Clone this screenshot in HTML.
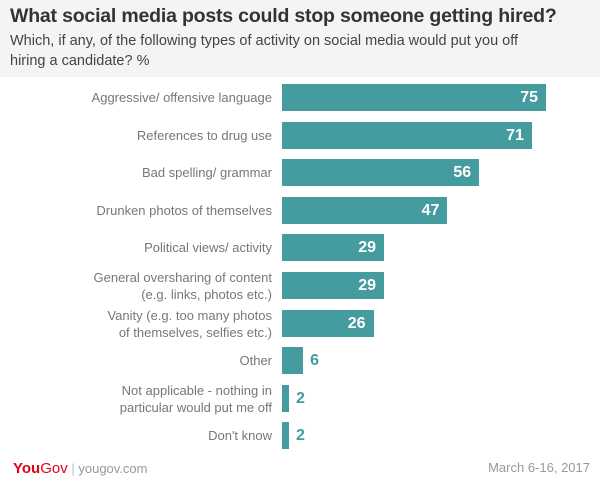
<!DOCTYPE html>
<html><head><style>
body{margin:0;width:600px;height:484px;background:#fff;font-family:"Liberation Sans",sans-serif;position:relative;overflow:hidden}
.hdr{position:absolute;left:0;top:0;width:600px;height:77px;background:#f3f4f5}
.t{position:absolute;left:10px;top:5px;font-size:19.5px;font-weight:bold;color:#333;letter-spacing:-0.2px}
.s{position:absolute;left:10px;top:31px;font-size:14.5px;color:#444;line-height:20px;width:540px}
.l{position:absolute;right:328px;text-align:right;font-size:13px;color:#777;line-height:17px}
.b{position:absolute;left:282px;height:27px;background:#459c9e}
.v{position:absolute;font-size:16px;font-weight:bold;line-height:27px}
.f{position:absolute;top:460px;font-size:13px;color:#999}
</style></head><body>
<div class="hdr"></div>
<div class="t">What social media posts could stop someone getting hired?</div>
<div class="s">Which, if any, of the following types of activity on social media would put you off<br>hiring a candidate? %</div>
<div id="c"></div>
<div class="f" style="left:13px;"><span style="color:#e0001b;font-weight:bold;font-size:15px">You</span><span style="color:#e0001b;font-size:15px">Gov</span> <span style="color:#bbb">|</span> yougov.com</div>
<div class="f" style="right:10px;">March 6-16, 2017</div>
<script>
var d=[["Aggressive/ offensive language",75],["References to drug use",71],["Bad spelling/ grammar",56],["Drunken photos of themselves",47],["Political views/ activity",29],["General oversharing of content<br>(e.g. links, photos etc.)",29],["Vanity (e.g. too many photos<br>of themselves, selfies etc.)",26],["Other",6],["Not applicable - nothing in<br>particular would put me off",2],["Don't know",2]];
var h="";d.forEach(function(r,i){var y=84+i*37.6,w=r[1]*3.52,two=r[0].indexOf("<br>")>0;
h+='<div class="l" style="top:'+(y+(two?-3:5))+'px">'+r[0]+'</div>';
h+='<div class="b" style="top:'+y+'px;width:'+w+'px"></div>';
if(r[1]>20)h+='<div class="v" style="color:#fff;top:'+y+'px;left:'+(282+w-36)+'px;width:28px;text-align:right">'+r[1]+'</div>';
else h+='<div class="v" style="color:#459c9e;top:'+y+'px;left:'+(282+w+7)+'px">'+r[1]+'</div>';});
document.getElementById("c").innerHTML=h;
</script>
</body></html>
